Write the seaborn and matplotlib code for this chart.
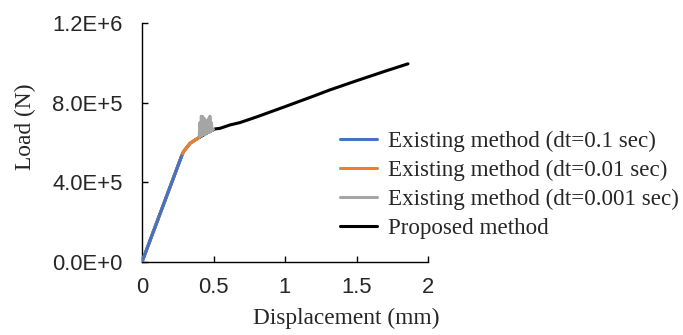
import numpy as np
import pandas as pd
import matplotlib
matplotlib.use("Agg")
import matplotlib.pyplot as plt
import seaborn as sns

# Courbes charge-deplacement
disp_01 = [0.0, 0.1, 0.2, 0.277]
load_01 = [0.0, 1.92e5, 3.84e5, 5.32e5]

disp_001 = [0.0, 0.1, 0.2, 0.277, 0.29, 0.336, 0.39]
load_001 = [0.0, 1.92e5, 3.84e5, 5.32e5, 5.54e5, 5.96e5, 6.21e5]

disp_0001 = [0.0, 0.1, 0.2, 0.277, 0.29, 0.336, 0.39, 0.40, 0.405, 0.41, 0.415,
             0.42, 0.425, 0.43, 0.435, 0.44, 0.445, 0.45, 0.455, 0.46, 0.465,
             0.47, 0.475, 0.48, 0.485, 0.49, 0.50]
load_0001 = [0.0, 1.92e5, 3.84e5, 5.32e5, 5.54e5, 5.96e5, 6.21e5, 6.25e5, 7.0e5,
             6.3e5, 7.32e5, 6.35e5, 7.3e5, 6.4e5, 7.2e5, 6.4e5, 7.1e5, 6.45e5,
             7.08e5, 6.5e5, 7.2e5, 6.5e5, 7.32e5, 6.55e5, 7.0e5, 6.6e5, 6.66e5]

disp_prop = [0.0, 0.1, 0.2, 0.277, 0.29, 0.336, 0.39, 0.45, 0.51, 0.545, 0.615,
             0.685, 0.8, 1.0, 1.2, 1.31, 1.5, 1.7, 1.86]
load_prop = [0.0, 1.92e5, 3.84e5, 5.32e5, 5.54e5, 5.96e5, 6.21e5, 6.46e5, 6.68e5,
             6.71e5, 6.88e5, 7.0e5, 7.28e5, 7.8e5, 8.33e5, 8.63e5, 9.1e5, 9.58e5, 9.95e5]

labels = ["Existing method (dt=0.1 sec)", "Existing method (dt=0.01 sec)",
          "Existing method (dt=0.001 sec)", "Proposed method"]
colors = ["#4472C4", "#ED7D31", "#A5A5A5", "#000000"]

series = [(disp_01, load_01), (disp_001, load_001), (disp_0001, load_0001), (disp_prop, load_prop)]
zorders = [5, 4, 3, 2]

sns.set_style("white")
plt.rcParams["font.family"] = ["Liberation Serif", "DejaVu Serif"]

fig = plt.figure(figsize=(6.83, 3.35), dpi=100)
ax = fig.add_axes([142 / 683, 1 - 262 / 335, 286 / 683, 239 / 335])

for (x, y), lab, col, z in zip(series, labels, colors, zorders):
    df = pd.DataFrame({"Displacement": x, "Load": y})
    sns.lineplot(data=df, x="Displacement", y="Load", sort=False, estimator=None,
                 color=col, linewidth=2.2, label=lab, zorder=z, ax=ax)

ax.set_xlim(0, 2)
ax.set_ylim(0, 1.2e6)
ax.set_xticks([0, 0.5, 1, 1.5, 2])
ax.set_xticklabels(["0", "0.5", "1", "1.5", "2"])
ax.set_yticks([0, 4e5, 8e5, 1.2e6])
ax.set_yticklabels(["0.0E+0", "4.0E+5", "8.0E+5", "1.2E+6"])
for lbl in ax.get_xticklabels() + ax.get_yticklabels():
    lbl.set_family("Liberation Sans")
    lbl.set_fontsize(15.8)

ax.tick_params(direction="in", length=4.5, width=1.0, color="black",
               left=True, bottom=True)
ax.tick_params(axis="y", pad=14)
ax.tick_params(axis="x", pad=11)
for s in ["top", "right"]:
    ax.spines[s].set_visible(False)
for s in ["left", "bottom"]:
    ax.spines[s].set_color("black")
    ax.spines[s].set_linewidth(1.0)

ax.set_xlabel("Displacement (mm)", fontsize=16.8)
ax.set_ylabel("Load (N)", fontsize=16.8)
ax.xaxis.set_label_coords(0.713, -0.19)
ax.yaxis.set_label_coords(-0.37, 0.565)

ax.legend(loc="upper left", bbox_to_anchor=(340 / 683, 1 - 131 / 335),
          bbox_transform=fig.transFigure, frameon=False, fontsize=16.6,
          handlelength=1.62, handletextpad=0.45, labelspacing=0.34,
          borderaxespad=0, borderpad=0)

fig.savefig("out.png", dpi=100)
